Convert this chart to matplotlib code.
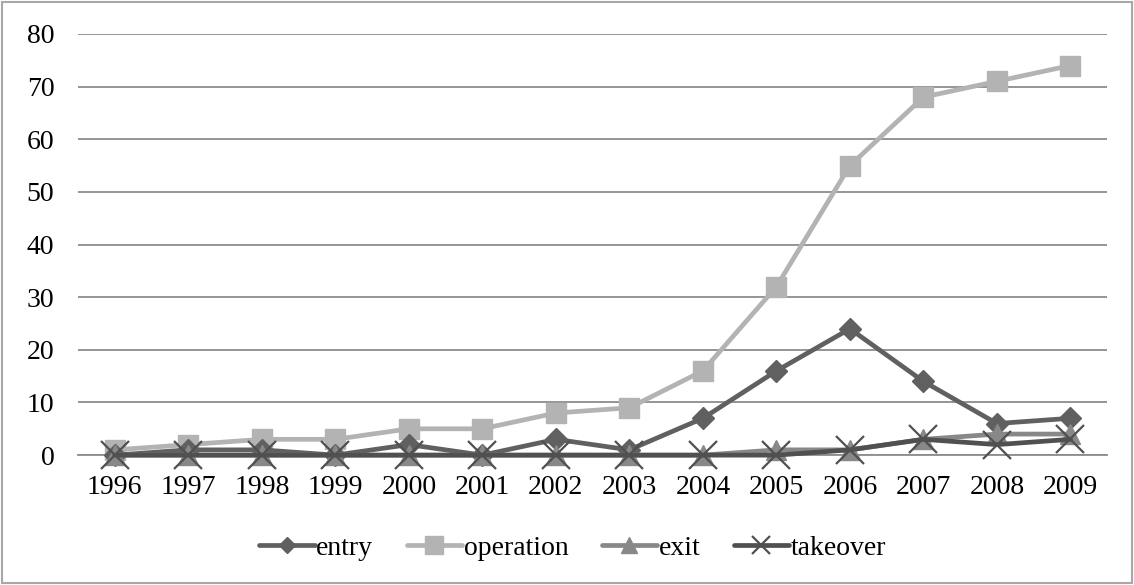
import matplotlib.pyplot as plt
from matplotlib.patches import Rectangle

years = ['1996', '1997', '1998', '1999', '2000', '2001', '2002',
         '2003', '2004', '2005', '2006', '2007', '2008', '2009']
entry = [0, 1, 1, 0, 2, 0, 3, 1, 7, 16, 24, 14, 6, 7]
operation = [1, 2, 3, 3, 5, 5, 8, 9, 16, 32, 55, 68, 71, 74]
exit_ = [0, 0, 0, 0, 0, 0, 0, 0, 0, 1, 1, 3, 4, 4]
takeover = [0, 0, 0, 0, 0, 0, 0, 0, 0, 0, 1, 3, 2, 3]

plt.rcParams['font.family'] = ['Liberation Serif', 'DejaVu Serif']

fig = plt.figure(figsize=(11.34, 5.85), dpi=100)
ax = fig.add_axes([0.0688, 0.222, 0.9076, 0.72])

x = range(len(years))
lw = 3.4
style = dict(lw=lw, clip_on=False, solid_capstyle='round', solid_joinstyle='round')
ax.plot(x, entry, color='#606060', marker='D', ms=11, label='entry', zorder=4, **style)
ax.plot(x, operation, color='#b3b3b3', marker='s', ms=14.5, label='operation',
        zorder=3, **style)
ax.plot(x, exit_, color='#888888', marker='^', ms=15, label='exit', zorder=5, **style)
ax.plot(x, takeover, color='#505050', marker='x', ms=19.5, mew=1.6,
        label='takeover', zorder=6, **style)

ax.set_xlim(-0.5, len(years) - 0.5)
ax.set_ylim(0, 80)
ax.set_yticks(range(0, 81, 10))
ax.set_xticks(list(x))
ax.set_xticklabels(years)
ax.yaxis.grid(True, color='#8c8c8c', lw=1.3)
ax.set_axisbelow(True)
for s in ['top', 'right', 'left']:
    ax.spines[s].set_visible(False)
ax.spines['bottom'].set_color('#8c8c8c')
ax.spines['bottom'].set_linewidth(1.3)
ax.tick_params(length=0, labelsize=20)
ax.tick_params(axis='x', pad=14)
ax.tick_params(axis='y', pad=17)

leg = fig.legend(loc='center', bbox_to_anchor=(0.505, 0.063), ncol=4, frameon=False,
                 fontsize=20, handlelength=2.0, handletextpad=0.05, columnspacing=1.2)
for h, size in zip(leg.legend_handles, [8, 13, 12, 13]):
    h.set_markersize(size)

fig.patches.append(Rectangle((0.002, 0.003), 0.996, 0.993, transform=fig.transFigure,
                             fill=False, edgecolor='#a8a8a8', lw=1.5))

fig.savefig('out.png', dpi=100)
